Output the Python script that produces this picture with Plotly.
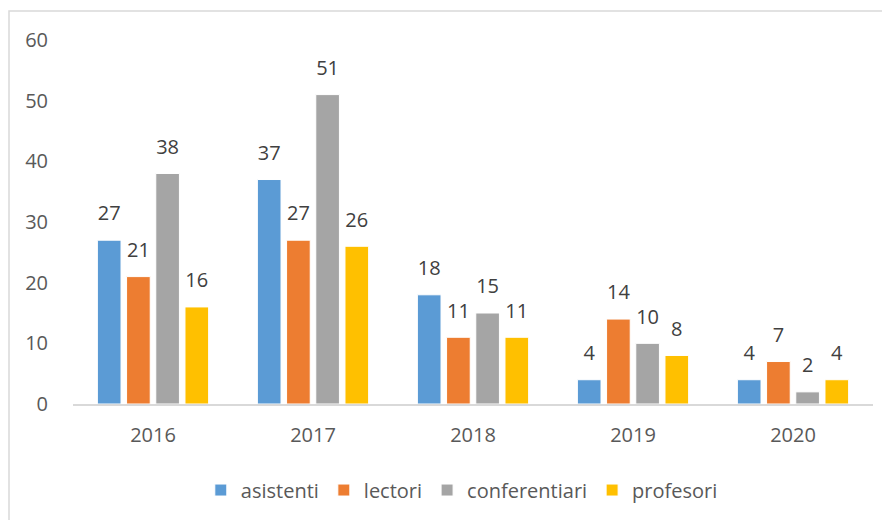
import plotly.graph_objects as go

years = ["2016", "2017", "2018", "2019", "2020"]
asistenti = [27, 37, 18, 4, 4]
lectori = [21, 27, 11, 14, 7]
conferentiari = [38, 51, 15, 10, 2]
profesori = [16, 26, 11, 8, 4]

series = [
    ("asistenti", asistenti, "#5B9BD5"),
    ("lectori", lectori, "#ED7D31"),
    ("conferentiari", conferentiari, "#A5A5A5"),
    ("profesori", profesori, "#FFC000"),
]

FONT = "Open Sans, Liberation Sans, sans-serif"
TXT = "#595959"
FS = 20

fig = go.Figure()
for name, vals, col in series:
    fig.add_trace(go.Bar(
        name=name, x=years, y=vals, offsetgroup=name,
        marker=dict(color=col, line=dict(color="white", width=1)),
        hoverinfo="x+y+name",
    ))
for name, vals, col in series:
    fig.add_trace(go.Scatter(
        name=name, x=years, y=vals, offsetgroup=name, showlegend=False,
        mode="markers+text", text=[str(v) for v in vals], textposition="top center",
        marker=dict(size=22, color="rgba(0,0,0,0)"),
        textfont=dict(family=FONT, size=FS, color="#404040"),
        cliponaxis=False, hoverinfo="skip",
    ))

# page body has an 8px margin; compensate so the plot sits where the reference has it
fig.update_layout(
    width=882, height=512,
    margin=dict(l=65, r=17, t=32, b=115),
    paper_bgcolor="white", plot_bgcolor="white",
    barmode="group", bargap=0.27, bargroupgap=0.19,
    scattermode="group", scattergap=0.27,
    font=dict(family=FONT, size=FS, color=TXT),
    showlegend=True,
    legend=dict(orientation="h", x=0.486, xanchor="center", y=-0.233, yanchor="middle",
                font=dict(family=FONT, size=FS, color=TXT), itemwidth=30,
                traceorder="normal"),
    xaxis=dict(showline=True, linecolor="#D9D9D9", linewidth=1.5,
               ticks="outside", ticklen=12, tickcolor="rgba(0,0,0,0)",
               tickfont=dict(family=FONT, size=FS, color=TXT), showgrid=False),
    yaxis=dict(range=[0, 60], dtick=10, showgrid=False, zeroline=False,
               showline=False, ticks="outside", ticklen=20, tickcolor="rgba(0,0,0,0)",
               tickfont=dict(family=FONT, size=FS, color=TXT)),
    shapes=[dict(type="rect", xref="paper", yref="paper",
                 x0=-0.08, x1=1.01875, y0=-0.4, y1=1.0795,
                 line=dict(color="#D9D9D9", width=1.5), layer="below")],
)

fig.write_html("out.html")
